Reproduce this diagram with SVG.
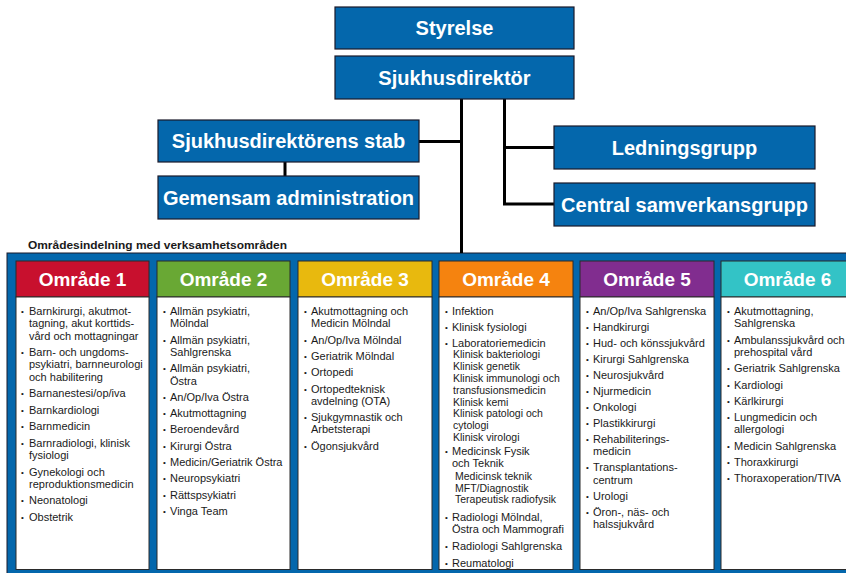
<svg xmlns="http://www.w3.org/2000/svg" width="846" height="573" viewBox="0 0 846 573">
  <style>
    .box { fill: #0467AC; stroke: #1a1a2a; stroke-width: 1.2; }
    .boxt { font-family: "Liberation Sans", Arial, sans-serif; font-weight: bold; font-size: 20px; fill: #ffffff; text-anchor: middle; }
    .conn { stroke: #000000; stroke-width: 3; fill: none; }
    .frame { fill: #0467AC; stroke: #1a1a2a; stroke-width: 1; }
    .hdr { stroke: #2a2a2a; stroke-width: 1; }
    .hdrt { font-family: "Liberation Sans", Arial, sans-serif; font-weight: bold; font-size: 19px; fill: #ffffff; text-anchor: middle; }
    .body { fill: #ffffff; stroke: #2a2a2a; stroke-width: 1; }
    .it { font-family: "Liberation Sans", Arial, sans-serif; font-size: 11px; fill: #1a1a1a; }
    .sub { font-family: "Liberation Sans", Arial, sans-serif; font-size: 10.5px; fill: #1a1a1a; }
    .bul { font-family: "Liberation Sans", Arial, sans-serif; font-size: 8px; fill: #1a1a1a; }
    .cap { font-family: "Liberation Sans", Arial, sans-serif; font-weight: bold; font-size: 11.5px; fill: #1a1a1a; }
  </style>

  <!-- area frame behind the six columns -->
  <rect class="frame" x="7" y="253" width="850" height="330"/>

  <!-- connectors -->
  <g id="connectors">
    <line class="conn" x1="461.5" y1="99" x2="461.5" y2="253"/>
    <line class="conn" x1="419" y1="141.5" x2="461.5" y2="141.5"/>
    <line class="conn" x1="285" y1="162" x2="285" y2="176"/>
    <polyline class="conn" points="504.5,99 504.5,204 554,204"/>
    <line class="conn" x1="504.5" y1="147.5" x2="554" y2="147.5"/>
  </g>

  <g id="styrelse">
    <rect class="box" x="335" y="7" width="239" height="42"/>
    <text class="boxt" x="454.5" y="35">Styrelse</text>
  </g>
  <g id="sjukhusdirektor">
    <rect class="box" x="335" y="56" width="239" height="43"/>
    <text class="boxt" x="454.5" y="85">Sjukhusdirektör</text>
  </g>
  <g id="stab">
    <rect class="box" x="158" y="120" width="261" height="42"/>
    <text class="boxt" x="288.5" y="148">Sjukhusdirektörens stab</text>
  </g>
  <g id="gemensam-administration">
    <rect class="box" x="158" y="176" width="261" height="43"/>
    <text class="boxt" x="288.5" y="204.5">Gemensam administration</text>
  </g>
  <g id="ledningsgrupp">
    <rect class="box" x="554" y="126" width="261" height="43"/>
    <text class="boxt" x="684.5" y="154.5">Ledningsgrupp</text>
  </g>
  <g id="central-samverkansgrupp">
    <rect class="box" x="554" y="183" width="261" height="43"/>
    <text class="boxt" x="684.5" y="211.5">Central samverkansgrupp</text>
  </g>

  <text class="cap" x="28" y="249" textLength="259" lengthAdjust="spacingAndGlyphs">Områdesindelning med verksamhetsområden</text>

  <!-- Område 1 -->
  <g id="omrade-1">
    <rect class="hdr" x="16" y="261" width="133" height="36" fill="#C8102E"/>
    <rect class="body" x="16" y="297" width="133" height="272.5"/>
    <text class="hdrt" x="82.5" y="286">Område 1</text>
    <g class="bul">
      <text x="21" y="314">•</text><text x="21" y="355">•</text><text x="21" y="396">•</text>
      <text x="21" y="413">•</text><text x="21" y="429">•</text><text x="21" y="446">•</text>
      <text x="21" y="475">•</text><text x="21" y="503">•</text><text x="21" y="520">•</text>
    </g>
    <text class="it" x="29" y="315">Barnkirurgi, akutmot-</text>
    <text class="it" x="29" y="327.3">tagning, akut korttids-</text>
    <text class="it" x="29" y="339.6">vård och mottagningar</text>
    <text class="it" x="29" y="356.1">Barn- och ungdoms-</text>
    <text class="it" x="29" y="368.4">psykiatri, barnneurologi</text>
    <text class="it" x="29" y="380.7">och habilitering</text>
    <text class="it" x="29" y="397.2">Barnanestesi/op/iva</text>
    <text class="it" x="29" y="413.7">Barnkardiologi</text>
    <text class="it" x="29" y="430.2">Barnmedicin</text>
    <text class="it" x="29" y="446.7">Barnradiologi, klinisk</text>
    <text class="it" x="29" y="459">fysiologi</text>
    <text class="it" x="29" y="475.5">Gynekologi och</text>
    <text class="it" x="29" y="487.8">reproduktionsmedicin</text>
    <text class="it" x="29" y="504.3">Neonatologi</text>
    <text class="it" x="29" y="520.8">Obstetrik</text>
  </g>

  <!-- Område 2 -->
  <g id="omrade-2">
    <rect class="hdr" x="157" y="261" width="133" height="36" fill="#69A834"/>
    <rect class="body" x="157" y="297" width="133" height="272.5"/>
    <text class="hdrt" x="223.5" y="286">Område 2</text>
    <g class="bul">
      <text x="163" y="314">•</text><text x="163" y="342.6">•</text><text x="163" y="371.2">•</text>
      <text x="163" y="399.8">•</text><text x="163" y="416.1">•</text><text x="163" y="432.4">•</text>
      <text x="163" y="448.7">•</text><text x="163" y="465">•</text><text x="163" y="481.3">•</text>
      <text x="163" y="497.6">•</text><text x="163" y="513.9">•</text>
    </g>
    <text class="it" x="170" y="315">Allmän psykiatri,</text>
    <text class="it" x="170" y="327.3">Mölndal</text>
    <text class="it" x="170" y="343.6">Allmän psykiatri,</text>
    <text class="it" x="170" y="355.9">Sahlgrenska</text>
    <text class="it" x="170" y="372.2">Allmän psykiatri,</text>
    <text class="it" x="170" y="384.5">Östra</text>
    <text class="it" x="170" y="400.8">An/Op/Iva Östra</text>
    <text class="it" x="170" y="417.1">Akutmottagning</text>
    <text class="it" x="170" y="433.4">Beroendevård</text>
    <text class="it" x="170" y="449.7">Kirurgi Östra</text>
    <text class="it" x="170" y="466">Medicin/Geriatrik Östra</text>
    <text class="it" x="170" y="482.3">Neuropsykiatri</text>
    <text class="it" x="170" y="498.6">Rättspsykiatri</text>
    <text class="it" x="170" y="514.9">Vinga Team</text>
  </g>

  <!-- Område 3 -->
  <g id="omrade-3">
    <rect class="hdr" x="298" y="261" width="134" height="36" fill="#E8B90E"/>
    <rect class="body" x="298" y="297" width="134" height="272.5"/>
    <text class="hdrt" x="365" y="286">Område 3</text>
    <g class="bul">
      <text x="304" y="314">•</text><text x="304" y="342.6">•</text><text x="304" y="358.9">•</text>
      <text x="304" y="375.2">•</text><text x="304" y="391.5">•</text><text x="304" y="420.1">•</text>
      <text x="304" y="448.7">•</text>
    </g>
    <text class="it" x="311" y="315">Akutmottagning och</text>
    <text class="it" x="311" y="327.3">Medicin Mölndal</text>
    <text class="it" x="311" y="343.6">An/Op/Iva Mölndal</text>
    <text class="it" x="311" y="359.9">Geriatrik Mölndal</text>
    <text class="it" x="311" y="376.2">Ortopedi</text>
    <text class="it" x="311" y="392.5">Ortopedteknisk</text>
    <text class="it" x="311" y="404.8">avdelning (OTA)</text>
    <text class="it" x="311" y="421.1">Sjukgymnastik och</text>
    <text class="it" x="311" y="433.4">Arbetsterapi</text>
    <text class="it" x="311" y="449.7">Ögonsjukvård</text>
  </g>

  <!-- Område 4 -->
  <g id="omrade-4">
    <rect class="hdr" x="439" y="261" width="134" height="36" fill="#F5830F"/>
    <rect class="body" x="439" y="297" width="134" height="272.5"/>
    <text class="hdrt" x="506" y="286">Område 4</text>
    <g class="bul">
      <text x="445" y="314">•</text><text x="445" y="329.5">•</text><text x="445" y="345.5">•</text>
      <text x="445" y="454">•</text><text x="445" y="519.5">•</text><text x="445" y="549">•</text>
      <text x="445" y="566">•</text>
    </g>
    <text class="it" x="452" y="315">Infektion</text>
    <text class="it" x="452" y="330.5">Klinisk fysiologi</text>
    <text class="it" x="452" y="346.5">Laboratoriemedicin</text>
    <text class="sub" x="453" y="358.3">Klinisk bakteriologi</text>
    <text class="sub" x="453" y="370.1">Klinisk genetik</text>
    <text class="sub" x="453" y="381.9">Klinisk immunologi och</text>
    <text class="sub" x="453" y="393.7">transfusionsmedicin</text>
    <text class="sub" x="453" y="405.5">Klinisk kemi</text>
    <text class="sub" x="453" y="417.3">Klinisk patologi och</text>
    <text class="sub" x="453" y="429.1">cytologi</text>
    <text class="sub" x="453" y="440.9">Klinisk virologi</text>
    <text class="it" x="452" y="455">Medicinsk Fysik</text>
    <text class="it" x="452" y="467">och Teknik</text>
    <text class="sub" x="455" y="479.8">Medicinsk teknik</text>
    <text class="sub" x="455" y="491.6">MFT/Diagnostik</text>
    <text class="sub" x="455" y="503.4">Terapeutisk radiofysik</text>
    <text class="it" x="452" y="520.5">Radiologi Mölndal,</text>
    <text class="it" x="452" y="532.8">Östra och Mammografi</text>
    <text class="it" x="452" y="550">Radiologi Sahlgrenska</text>
    <text class="it" x="452" y="567">Reumatologi</text>
  </g>

  <!-- Område 5 -->
  <g id="omrade-5">
    <rect class="hdr" x="580" y="261" width="134" height="36" fill="#812D8F"/>
    <rect class="body" x="580" y="297" width="134" height="272.5"/>
    <text class="hdrt" x="647" y="286">Område 5</text>
    <g class="bul">
      <text x="586" y="314">•</text><text x="586" y="330">•</text><text x="586" y="346">•</text>
      <text x="586" y="362">•</text><text x="586" y="378">•</text><text x="586" y="394">•</text>
      <text x="586" y="410">•</text><text x="586" y="426">•</text><text x="586" y="442">•</text>
      <text x="586" y="470.3">•</text><text x="586" y="498.6">•</text><text x="586" y="514.6">•</text>
    </g>
    <text class="it" x="593" y="315">An/Op/Iva Sahlgrenska</text>
    <text class="it" x="593" y="331">Handkirurgi</text>
    <text class="it" x="593" y="347">Hud- och könssjukvård</text>
    <text class="it" x="593" y="363">Kirurgi Sahlgrenska</text>
    <text class="it" x="593" y="379">Neurosjukvård</text>
    <text class="it" x="593" y="395">Njurmedicin</text>
    <text class="it" x="593" y="411">Onkologi</text>
    <text class="it" x="593" y="427">Plastikkirurgi</text>
    <text class="it" x="593" y="443">Rehabiliterings-</text>
    <text class="it" x="593" y="455.3">medicin</text>
    <text class="it" x="593" y="471.3">Transplantations-</text>
    <text class="it" x="593" y="483.6">centrum</text>
    <text class="it" x="593" y="499.6">Urologi</text>
    <text class="it" x="593" y="515.6">Öron-, näs- och</text>
    <text class="it" x="593" y="527.9">halssjukvård</text>
  </g>

  <!-- Område 6 -->
  <g id="omrade-6">
    <rect class="hdr" x="721" y="261" width="134" height="36" fill="#33C3C6"/>
    <rect class="body" x="721" y="297" width="134" height="272.5"/>
    <text class="hdrt" x="787.5" y="286">Område 6</text>
    <g class="bul">
      <text x="727" y="314">•</text><text x="727" y="342.6">•</text><text x="727" y="371.2">•</text>
      <text x="727" y="387.5">•</text><text x="727" y="403.8">•</text><text x="727" y="420.1">•</text>
      <text x="727" y="448.7">•</text><text x="727" y="465">•</text><text x="727" y="481.3">•</text>
    </g>
    <text class="it" x="734" y="315">Akutmottagning,</text>
    <text class="it" x="734" y="327.3">Sahlgrenska</text>
    <text class="it" x="734" y="343.6">Ambulanssjukvård och</text>
    <text class="it" x="734" y="355.9">prehospital vård</text>
    <text class="it" x="734" y="372.2">Geriatrik Sahlgrenska</text>
    <text class="it" x="734" y="388.5">Kardiologi</text>
    <text class="it" x="734" y="404.8">Kärlkirurgi</text>
    <text class="it" x="734" y="421.1">Lungmedicin och</text>
    <text class="it" x="734" y="433.4">allergologi</text>
    <text class="it" x="734" y="449.7">Medicin Sahlgrenska</text>
    <text class="it" x="734" y="466">Thoraxkirurgi</text>
    <text class="it" x="734" y="482.3">Thoraxoperation/TIVA</text>
  </g>
</svg>
